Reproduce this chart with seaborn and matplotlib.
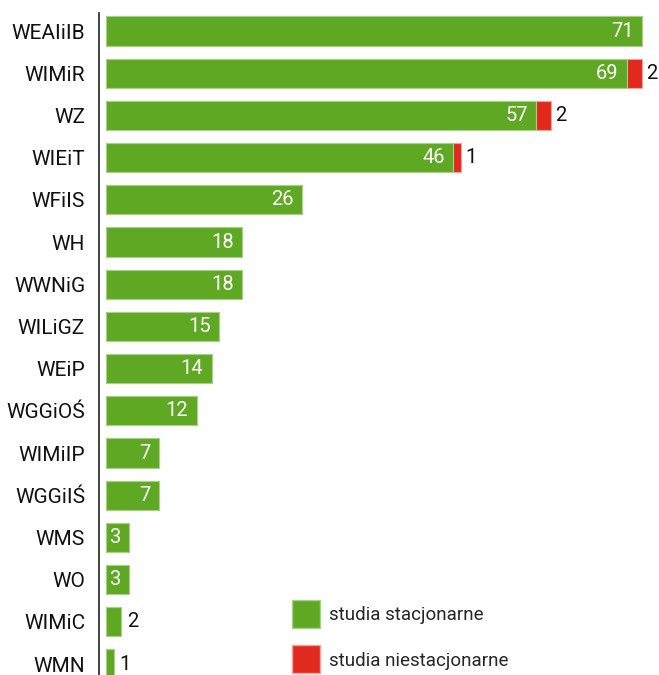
import matplotlib
matplotlib.use("Agg")
import matplotlib.pyplot as plt
import seaborn as sns
import pandas as pd
from matplotlib.lines import Line2D

categories = ["WEAIiIB", "WIMiR", "WZ", "WIEiT", "WFiIS", "WH", "WWNiG", "WILiGZ",
              "WEiP", "WGGiOŚ", "WIMiIP", "WGGiIŚ", "WMS", "WO", "WIMiC", "WMN"]
stacjonarne = [71, 69, 57, 46, 26, 18, 18, 15, 14, 12, 7, 7, 3, 3, 2, 1]
niestacjonarne = [0, 2, 2, 1, 0, 0, 0, 0, 0, 0, 0, 0, 0, 0, 0, 0]
legend_labels = ["studia stacjonarne", "studia niestacjonarne"]

GREEN = "#5fa823"
RED = "#e1291d"

sns.set_theme(style="white")
plt.rcParams["font.family"] = ["Roboto", "DejaVu Sans"]

df = pd.DataFrame({"cat": categories, "s": stacjonarne, "n": niestacjonarne})
df["total"] = df["s"] + df["n"]

W, H = 659, 675
fig = plt.figure(figsize=(W / 100, H / 100), dpi=100)
ax = fig.add_axes([99 / W, 0, 1 - 99 / W, (675 - 13) / H])

sns.barplot(data=df, y="cat", x="total", orient="h", color=RED, width=0.69,
            edgecolor="#f3a39c", linewidth=0.8, saturation=1, ax=ax, order=categories)
sns.barplot(data=df, y="cat", x="s", orient="h", color=GREEN, width=0.69,
            edgecolor="#a9d08a", linewidth=0.8, saturation=1, ax=ax, order=categories)

ax.set_xlim(-7 / 7.55, (W - 106) / 7.55)
ax.set_ylim(15.26, -0.427)
ax.set_xlabel("")
ax.set_ylabel("")
ax.set_xticks([])
for sp in ["top", "right", "bottom"]:
    ax.spines[sp].set_visible(False)
ax.spines["left"].set_color("#222222")
ax.spines["left"].set_linewidth(1.2)
ax.tick_params(axis="y", length=0, pad=10, labelsize=15, labelcolor="#111111")

for i, (s, n) in enumerate(zip(stacjonarne, niestacjonarne)):
    if s >= 3:
        ax.annotate(str(s), (s, i), xytext=(-6, 0), textcoords="offset points",
                    ha="right", va="center", color="white", fontsize=14.5)
    else:
        ax.annotate(str(s), (s, i), xytext=(4, 0), textcoords="offset points",
                    ha="left", va="center", color="#111111", fontsize=14.5)
    if n > 0:
        ax.annotate(str(n), (s + n, i), xytext=(3, 0), textcoords="offset points",
                    ha="left", va="center", color="#111111", fontsize=14.5)

handles = [Line2D([], [], marker="s", linestyle="none", markersize=20,
                  markerfacecolor=GREEN, markeredgecolor="#a9d08a"),
           Line2D([], [], marker="s", linestyle="none", markersize=20,
                  markerfacecolor=RED, markeredgecolor="#f3a39c")]
fig.legend(handles, legend_labels, loc="upper left", bbox_to_anchor=(283 / W, 1 - 599 / H),
           frameon=False, fontsize=13.5, labelspacing=1.45, handletextpad=0.45,
           handlelength=1.6, borderaxespad=0)

fig.savefig("out.png", dpi=100)
